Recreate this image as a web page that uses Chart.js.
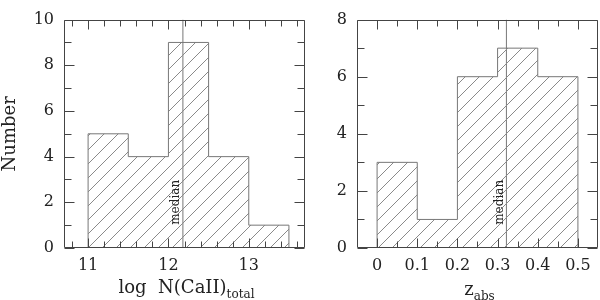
<!DOCTYPE html>
<html>
<head>
<meta charset="utf-8">
<script src="https://cdn.jsdelivr.net/npm/chart.js@4/dist/chart.umd.min.js"></script>
<style>
  html, body { margin: 0; padding: 0; background: #fff; }
  #wrap { position: relative; width: 600px; height: 300px; overflow: hidden; background: #fff; }
  canvas { position: absolute; top: 0; }
</style>
</head>
<body>
<div id="wrap">
  <canvas id="left" width="320" height="300" style="left:0px"></canvas>
  <canvas id="right" width="310" height="300" style="left:290px"></canvas>
</div>
<script>
// ---- data ----
const logNEdges = [11.0, 11.5, 12.0, 12.5, 13.0, 13.5];
const logNCounts = [5, 4, 9, 4, 1];
const logNMedian = 12.18;
const logNTicks = [11, 12, 13];

const zEdges = [0.0, 0.1, 0.2, 0.3, 0.4, 0.5];
const zCounts = [3, 1, 6, 7, 6];
const zMedian = 0.322;
const zTicks = [0, 0.1, 0.2, 0.3, 0.4, 0.5];

const FONT = "'DejaVu Serif', 'Liberation Serif', serif";
const TEXT = '#222';
const FRAME = '#444';
const OUTLINE = '#777';
const HATCH = '#8a8a8a';

function stepPoints(edges, counts) {
  const pts = [{x: edges[0], y: 0}];
  for (let i = 0; i < counts.length; i++) pts.push({x: edges[i], y: counts[i]});
  pts.push({x: edges[edges.length - 1], y: 0});
  return pts;
}

function hatchPattern(ctx) {
  const s = 14;
  const c = document.createElement('canvas');
  c.width = s; c.height = s;
  const g = c.getContext('2d');
  g.strokeStyle = HATCH;
  g.lineWidth = 1;
  g.beginPath();
  g.moveTo(0, s); g.lineTo(s, 0);
  g.moveTo(-2, 2); g.lineTo(2, -2);
  g.moveTo(s - 2, s + 2); g.lineTo(s + 2, s - 2);
  g.stroke();
  return ctx.createPattern(c, 'repeat');
}

function framePlugin(opts) {
  return {
    id: 'frame',
    afterDraw(chart) {
      const {ctx, chartArea: a, scales: {x, y}} = chart;
      ctx.save();
      ctx.strokeStyle = FRAME;
      ctx.lineWidth = 1;
      const L = Math.round(a.left) + 0.5, R = Math.round(a.right) - 0.5;
      const T = Math.round(a.top) + 0.5, B = Math.round(a.bottom) - 0.5;
      ctx.beginPath();
      ctx.rect(L, T, R - L, B - T);
      for (const t of opts.xMinor) {
        const px = Math.round(x.getPixelForValue(t.v)) + 0.5;
        const len = t.major ? 9 : 6;
        ctx.moveTo(px, B); ctx.lineTo(px, B - len);
        ctx.moveTo(px, T); ctx.lineTo(px, T + len);
      }
      for (const t of opts.yMinor) {
        const py = Math.round(y.getPixelForValue(t.v)) + 0.5;
        const len = t.major ? 10 : 7;
        ctx.moveTo(L, py); ctx.lineTo(L + len, py);
        ctx.moveTo(R, py); ctx.lineTo(R - len, py);
      }
      ctx.stroke();

      // median label
      ctx.fillStyle = TEXT;
      ctx.font = "12px " + FONT;
      ctx.textAlign = 'center';
      ctx.textBaseline = 'bottom';
      const mx = x.getPixelForValue(opts.median);
      const my = y.getPixelForValue(opts.medianLabelY);
      ctx.translate(mx - 1, my);
      ctx.rotate(-Math.PI / 2);
      ctx.fillText('median', 0, 0);
      ctx.setTransform(1, 0, 0, 1, 0, 0);

      if (opts.yTitle) {
        ctx.font = "18px " + FONT;
        ctx.textAlign = 'center';
        ctx.textBaseline = 'middle';
        ctx.translate(opts.yTitleX, (a.top + a.bottom) / 2);
        ctx.rotate(-Math.PI / 2);
        ctx.fillText(opts.yTitle, 0, 0);
        ctx.setTransform(1, 0, 0, 1, 0, 0);
      }

      ctx.textAlign = 'left';
      ctx.textBaseline = 'alphabetic';
      ctx.font = "18px " + FONT;
      const w1 = ctx.measureText(opts.xMain).width;
      ctx.font = "12px " + FONT;
      const w2 = ctx.measureText(opts.xSub).width;
      const x0 = (a.left + a.right) / 2 + opts.xTitleShift - (w1 + w2) / 2;
      ctx.font = "18px " + FONT;
      ctx.fillText(opts.xMain, x0, opts.xBase);
      ctx.font = "12px " + FONT;
      ctx.fillText(opts.xSub, x0 + w1, opts.xBase + 5);
      ctx.restore();
    }
  };
}

function makeTicks(min, max, step, majorEvery) {
  const out = [];
  const n = Math.round((max - min) / step);
  for (let i = 0; i <= n; i++) {
    const v = +(min + i * step).toFixed(6);
    const k = Math.round(v / step);
    out.push({v, major: k % majorEvery === 0});
  }
  return out;
}

function makeChart(id, cfg) {
  const canvas = document.getElementById(id);
  const ctx = canvas.getContext('2d');
  return new Chart(ctx, {
    type: 'line',
    data: {
      datasets: [
        {
          data: stepPoints(cfg.edges, cfg.counts),
          stepped: true,
          borderColor: OUTLINE,
          borderWidth: 1,
          backgroundColor: hatchPattern(ctx),
          fill: 'origin',
          pointRadius: 0,
          tension: 0
        },
        {
          data: [{x: cfg.median, y: cfg.yMin}, {x: cfg.median, y: cfg.yMax}],
          borderColor: OUTLINE,
          borderWidth: 1,
          fill: false,
          pointRadius: 0
        }
      ]
    },
    options: {
      responsive: false,
      animation: false,
      events: [],
      layout: {padding: {top: 8, right: cfg.padRight, left: 0, bottom: 0}},
      plugins: {legend: {display: false}, tooltip: {enabled: false}},
      scales: {
        x: {
          type: 'linear',
          min: cfg.xMin, max: cfg.xMax,
          afterBuildTicks: (s) => { s.ticks = cfg.xTicks.map(v => ({value: v})); },
          afterFit: (s) => { s.height = 52; },
          grid: {display: false, drawTicks: false},
          border: {display: false},
          ticks: {
            font: {family: FONT, size: 16}, color: TEXT, padding: 8, maxRotation: 0,
            callback: (v) => String(v)
          }
        },
        y: {
          type: 'linear',
          min: cfg.yMin, max: cfg.yMax,
          afterBuildTicks: (s) => {
            const t = [];
            for (let v = cfg.yMin; v <= cfg.yMax; v += 2) t.push({value: v});
            s.ticks = t;
          },
          afterFit: (s) => { s.width = cfg.yWidth; },
          grid: {display: false, drawTicks: false},
          border: {display: false},
          ticks: {font: {family: FONT, size: 16}, color: TEXT, padding: 10}
        }
      }
    },
    plugins: [framePlugin({
      xMinor: cfg.xMinor,
      yMinor: makeTicks(cfg.yMin, cfg.yMax, 1, 2),
      median: cfg.median,
      medianLabelY: cfg.medianLabelY,
      yTitle: cfg.yTitle,
      yTitleX: 10,
      xMain: cfg.xMain,
      xSub: cfg.xSub,
      xBase: cfg.xBase,
      xTitleShift: cfg.xTitleShift
    })]
  });
}

makeChart('left', {
  edges: logNEdges, counts: logNCounts, median: logNMedian,
  xMin: 10.7, xMax: 13.7, xTicks: logNTicks,
  xMinor: makeTicks(10.8, 13.6, 0.2, 5),
  yMin: 0, yMax: 10, yWidth: 64, padRight: 15,
  medianLabelY: 2.0,
  yTitle: 'Number',
  xMain: 'log  N(CaII)', xSub: 'total', xBase: 293, xTitleShift: 2
});

makeChart('right', {
  edges: zEdges, counts: zCounts, median: zMedian,
  xMin: -0.05, xMax: 0.55, xTicks: zTicks,
  xMinor: makeTicks(0, 0.5, 0.05, 2),
  yMin: 0, yMax: 8, yWidth: 67, padRight: 2,
  medianLabelY: 1.6,
  yTitle: null,
  xMain: 'z', xSub: 'abs', xBase: 295, xTitleShift: 2
});
</script>
</body>
</html>
